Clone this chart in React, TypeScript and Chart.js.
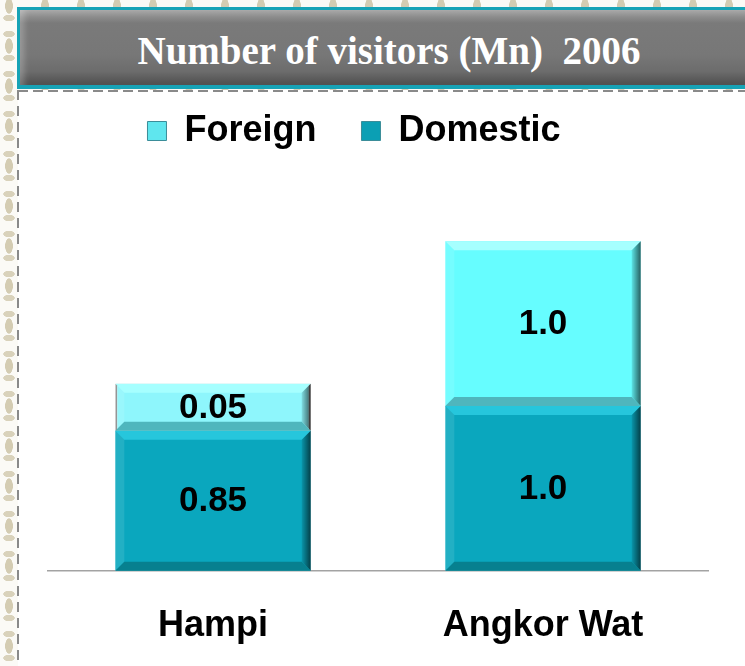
import React, { useEffect, useRef } from "react";
import { Chart, registerables } from "chart.js";

Chart.register(...registerables);

const titleText = "Number of visitors (Mn)  2006";
const categories = ["Hampi", "Angkor Wat"];
const seriesNames = ["Domestic", "Foreign"];
const domesticValues = [0.85, 1.0];
const foreignValues = [0.05, 1.0];

const domesticColors = ["#0aa7be", "#0aa7be"];
const foreignColors = ["#8ef6fc", "#66fdff"];
const foreignBorders = ["#8a8a8a", "rgba(0,0,0,0)"];
const foreignBorderWidths = [2, 0];
const legendColors = ["#0b9fb4", "#5fe6ee"];
const bevelTop = ["#26c6dc", "#a6ffff"];
const bevelBottom = ["#07808f", "#4fb6bd"];

const fmt = (v: number) => (Number.isInteger(v) ? v.toFixed(1) : String(v));

const bevelPlugin = {
  id: "bevel",
  afterDatasetsDraw(chart: any) {
    const ctx = chart.ctx;
    chart.data.datasets.forEach((ds: any, di: number) => {
      const meta = chart.getDatasetMeta(di);
      meta.data.forEach((el: any, i: number) => {
        const p = el.getProps(["x", "y", "base", "width"], true);
        const l = p.x - p.width / 2;
        const r = p.x + p.width / 2;
        const t = Math.min(p.y, p.base);
        const b = Math.max(p.y, p.base);
        const bv = Math.min(9, (b - t) / 3.5);
        ctx.save();
        const poly = (pts: number[][], fill: any) => {
          ctx.beginPath();
          ctx.moveTo(pts[0][0], pts[0][1]);
          for (let k = 1; k < pts.length; k++) ctx.lineTo(pts[k][0], pts[k][1]);
          ctx.closePath();
          ctx.fillStyle = fill;
          ctx.fill();
        };
        poly([[l, t], [r, t], [r - bv, t + bv], [l + bv, t + bv]], bevelTop[di]);
        poly([[l, t], [l + bv, t + bv], [l + bv, b - bv], [l, b]], "rgba(255,255,255,0.10)");
        const g = ctx.createLinearGradient(r - bv, 0, r, 0);
        g.addColorStop(0, "rgba(0,0,0,0.10)");
        g.addColorStop(1, "rgba(0,0,0,0.62)");
        poly([[r, t], [r - bv, t + bv], [r - bv, b - bv], [r, b]], g);
        poly([[l, b], [l + bv, b - bv], [r - bv, b - bv], [r, b]], bevelBottom[di]);
        ctx.restore();
        ctx.save();
        ctx.font = "bold 35px 'Liberation Sans', Arial, sans-serif";
        ctx.fillStyle = "#000";
        ctx.textAlign = "center";
        ctx.textBaseline = "middle";
        ctx.fillText(fmt(ds.data[i]), p.x, (t + b) / 2 + 1);
        ctx.restore();
      });
    });
  },
};

export default function App() {
  const ref = useRef<HTMLCanvasElement | null>(null);

  useEffect(() => {
    if (!ref.current) return;
    const chart = new Chart(ref.current, {
      type: "bar",
      data: {
        labels: categories,
        datasets: [
          {
            label: seriesNames[0],
            data: domesticValues,
            backgroundColor: domesticColors,
            borderWidth: 0,
            categoryPercentage: 1,
            barPercentage: 0.592,
          },
          {
            label: seriesNames[1],
            data: foreignValues,
            backgroundColor: foreignColors,
            borderColor: foreignBorders,
            borderWidth: foreignBorderWidths,
            minBarLength: 47,
            categoryPercentage: 1,
            barPercentage: 0.592,
          },
        ],
      },
      options: {
        responsive: false,
        animation: false,
        layout: { padding: { left: 0, right: 37, top: 0, bottom: 0 } },
        plugins: {
          tooltip: { enabled: false },
          legend: {
            reverse: true,
            labels: {
              font: { family: "'Liberation Sans', Arial, sans-serif", size: 36, weight: "bold" },
              color: "#000",
              boxWidth: 19,
              boxHeight: 19,
              padding: 45,
              generateLabels: (c: any) =>
                c.data.datasets.map((ds: any, i: number) => ({
                  text: ds.label,
                  fillStyle: legendColors[i],
                  strokeStyle: "#3b8d99",
                  lineWidth: 1,
                  hidden: false,
                  datasetIndex: i,
                  fontColor: "#000",
                })),
            },
          },
        },
        scales: {
          x: {
            stacked: true,
            grid: { display: false, drawTicks: false },
            border: { display: true, color: "#a3a3a3", width: 1.5 },
            ticks: {
              padding: 34,
              color: "#000",
              font: { family: "'Liberation Sans', Arial, sans-serif", size: 36, weight: "bold" },
            },
          },
          y: {
            stacked: true,
            min: 0,
            max: 2.5,
            grid: { display: false, drawTicks: false },
            border: { display: false },
            ticks: { display: false },
            afterFit: (s: any) => {
              s.width = 48;
            },
          },
        },
      },
      plugins: [bevelPlugin],
    } as any);
    return () => chart.destroy();
  }, []);

  const pattern =
    "radial-gradient(ellipse 6px 12px at 50% 50%, #d4ccb2 0 60%, transparent 68%)," +
    "radial-gradient(ellipse 9px 5px at 50% 20%, #d9d2bb 0 60%, transparent 68%)," +
    "radial-gradient(ellipse 9px 5px at 50% 80%, #d9d2bb 0 60%, transparent 68%)," +
    "radial-gradient(ellipse 6px 10px at 0 0, #dbd4bf 0 60%, transparent 68%)," +
    "radial-gradient(ellipse 6px 10px at 100% 100%, #dbd4bf 0 60%, transparent 68%)," +
    "radial-gradient(ellipse 6px 10px at 100% 0, #dbd4bf 0 60%, transparent 68%)," +
    "radial-gradient(ellipse 6px 10px at 0 100%, #dbd4bf 0 60%, transparent 68%)";

  return (
    <div
      style={{
        position: "absolute",
        left: 0,
        top: 0,
        width: 745,
        height: 666,
        overflow: "hidden",
        backgroundColor: "#fbfaf6",
        backgroundImage: pattern,
        backgroundSize: "36px 40px",
        backgroundPosition: "-9px -14px",
      }}
    >
      <div
        style={{
          position: "absolute",
          left: 18,
          top: 90,
          width: 727,
          height: 576,
          background: "#fff",
        }}
      />
      <div
        style={{
          position: "absolute",
          left: 18,
          top: 90,
          width: 727,
          height: 2,
          backgroundImage: "repeating-linear-gradient(to right, #8a8a8a 0 10px, transparent 10px 15px)",
        }}
      />
      <div
        style={{
          position: "absolute",
          left: 17,
          top: 90,
          width: 2,
          height: 576,
          backgroundImage: "repeating-linear-gradient(to bottom, #8a8a8a 0 10px, transparent 10px 16px)",
        }}
      />
      <div style={{ position: "absolute", left: 0, top: 68, width: 745, height: 614, zIndex: 1 }}>
        <canvas ref={ref} width={745} height={614} style={{ display: "block" }} />
      </div>
      <div
        style={{
          position: "absolute",
          left: 17,
          top: 7,
          width: 744,
          height: 82,
          boxSizing: "border-box",
          border: "3px solid #17a3b6",
          borderBottomWidth: 4,
          background:
            "linear-gradient(to bottom, #a9a9a9 0px, #8c8c8c 7px, #7a7a7a 13px, #777 60%, #6c6c6c 82%, #4e4e4e 100%)",
          boxShadow: "inset 8px 0 6px -4px rgba(255,255,255,0.25)",
          zIndex: 2,
          display: "flex",
          alignItems: "center",
          justifyContent: "center",
          color: "#fff",
          fontFamily: "'Liberation Serif', 'Times New Roman', serif",
          fontWeight: "bold",
          fontSize: 39,
          whiteSpace: "pre",
          lineHeight: 1,
          paddingTop: 5,
        }}
      >
        {titleText}
      </div>
    </div>
  );
}
